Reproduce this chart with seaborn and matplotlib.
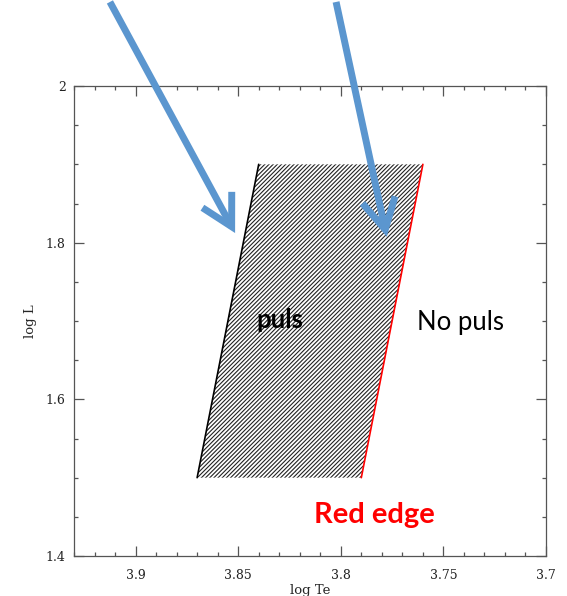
import matplotlib
matplotlib.use("Agg")
import matplotlib.pyplot as plt
from matplotlib.ticker import MultipleLocator
import seaborn as sns
import pandas as pd

# Instability strip boundaries (log L vs log Te)
log_l = [1.5, 1.9]
blue_edge_te = [3.87, 3.84]
red_edge_te = [3.79, 3.76]

# Arrow start/end points (log Te, log L)
arrow_blue = [(3.9125, 2.1073), (3.8515, 1.8123)]
arrow_red = [(3.8023, 2.1073), (3.7776, 1.8075)]

x_ticks = [3.9, 3.85, 3.8, 3.75, 3.7]
y_ticks = [1.4, 1.6, 1.8, 2.0]

sns.set_theme(style="ticks")
plt.rcParams["hatch.linewidth"] = 0.8
plt.rcParams["font.family"] = ["DejaVu Serif"]

fig = plt.figure(figsize=(5.67, 5.96), dpi=100)
ax = fig.add_axes([0.1305, 0.0671, 0.8325, 0.7886])

blue_df = pd.DataFrame({"te": blue_edge_te, "logl": log_l})
red_df = pd.DataFrame({"te": red_edge_te, "logl": log_l})

# Hatched strip between the two edges
strip_x = blue_edge_te + red_edge_te[::-1]
strip_y = log_l + log_l[::-1]
ax.fill(strip_x, strip_y, facecolor="none", edgecolor="#222222",
        linewidth=0, hatch="////////")

sns.lineplot(data=blue_df, x="te", y="logl", sort=False, color="black",
             linewidth=1.2, ax=ax)
sns.lineplot(data=red_df, x="te", y="logl", sort=False, color="#ff0000",
             linewidth=1.2, ax=ax)

ax.set_xlim(3.93, 3.70)
ax.set_ylim(1.4, 2.0)
ax.set_xticks(x_ticks)
ax.set_yticks(y_ticks)
ax.set_xticklabels([f"{v:g}" for v in x_ticks])
ax.set_yticklabels([f"{v:g}" for v in y_ticks])
ax.xaxis.set_minor_locator(MultipleLocator(0.01))
ax.yaxis.set_minor_locator(MultipleLocator(0.05))
ax.tick_params(which="both", direction="in", top=True, right=True,
               color="#555555", labelsize=9, labelcolor="#222222")
ax.tick_params(which="major", length=7, width=0.9)
ax.tick_params(which="minor", length=3, width=0.9)
ax.tick_params(axis="x", pad=9)
ax.tick_params(axis="y", pad=6)
for s in ax.spines.values():
    s.set_color("#555555")
    s.set_linewidth(0.9)

ax.set_xlabel("log Te", fontsize=9.5, labelpad=2)
ax.set_ylabel("log L", fontsize=9.5, labelpad=6)

# Region labels
sans = ["Lato", "DejaVu Sans"]
ax.text(3.8296, 1.701, "puls", fontsize=18.5, fontweight="bold", color="black",
        ha="center", va="center", family=sans)
ax.text(3.7419, 1.698, "No puls", fontsize=18.5, color="black",
        ha="center", va="center", family=sans)
ax.text(3.7838, 1.452, "Red edge", fontsize=21, fontweight="bold",
        color="#ff0000", ha="center", va="center", family=sans)

# Pointer arrows
for (start, end) in (arrow_blue, arrow_red):
    ax.annotate("", xy=end, xytext=start, xycoords="data",
                annotation_clip=False,
                arrowprops=dict(arrowstyle="->, head_length=1.1, head_width=0.6",
                                color="#5b96cf", linewidth=5,
                                shrinkA=0, shrinkB=0, mutation_scale=20,
                                joinstyle="miter", capstyle="butt"))

fig.savefig("out.png", dpi=100)
